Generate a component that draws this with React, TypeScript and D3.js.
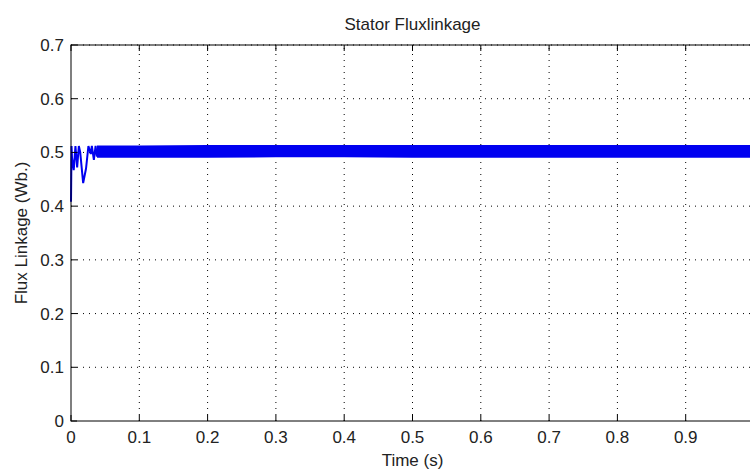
import React, { useEffect, useRef } from 'react';
import * as d3 from 'd3';

// start-up transient (time in s, flux in Wb)
const transientTime = [0, 0.0008, 0.0015, 0.004, 0.0065, 0.009, 0.0115, 0.0135, 0.0178, 0.022, 0.0255, 0.029, 0.0305, 0.0335, 0.036, 0.038];
const transientFlux = [0.408, 0.512, 0.49, 0.467, 0.512, 0.472, 0.512, 0.5, 0.443, 0.47, 0.512, 0.497, 0.512, 0.486, 0.512, 0.492];

// steady state hysteresis band (upper / lower envelope)
const bandTime = [0.038, 0.1, 0.2, 0.3, 0.4, 0.5, 0.6, 0.7, 0.8, 0.9, 1.0];
const bandHigh = [0.513, 0.513, 0.514, 0.514, 0.514, 0.514, 0.514, 0.514, 0.514, 0.514, 0.514];
const bandLow = [0.49, 0.49, 0.49, 0.491, 0.491, 0.49, 0.49, 0.49, 0.49, 0.49, 0.49];

const xTicks = [0, 0.1, 0.2, 0.3, 0.4, 0.5, 0.6, 0.7, 0.8, 0.9, 1];
const xTickLabels = ['0', '0.1', '0.2', '0.3', '0.4', '0.5', '0.6', '0.7', '0.8', '0.9', ''];
const yTicks = [0, 0.1, 0.2, 0.3, 0.4, 0.5, 0.6, 0.7];
const yTickLabels = ['0', '0.1', '0.2', '0.3', '0.4', '0.5', '0.6', '0.7'];

const FONT = '"Liberation Sans", Arial, sans-serif';

function App() {
  const ref = useRef<SVGSVGElement>(null);

  useEffect(() => {
    const svg = d3.select(ref.current);
    svg.selectAll('*').remove();

    const width = 750, height = 469;
    const margin = { top: 45, left: 71, right: -4, bottom: 48 };

    const x = d3.scaleLinear().domain([0, 1]).range([margin.left, width - margin.right]);
    const y = d3.scaleLinear().domain([0, 0.7]).range([height - margin.bottom, margin.top]);

    svg.append('rect').attr('width', width).attr('height', height).attr('fill', '#fff');

    // dotted grid
    const grid = svg.append('g');
    xTicks.slice(1).forEach((t) => {
      grid.append('line')
        .attr('x1', x(t)).attr('x2', x(t))
        .attr('y1', y(0)).attr('y2', y(0.7))
        .attr('stroke', '#000').attr('stroke-width', 1)
        .attr('stroke-dasharray', '1,5');
    });
    yTicks.slice(1).forEach((v) => {
      grid.append('line')
        .attr('x1', x(0)).attr('x2', x(1))
        .attr('y1', y(v)).attr('y2', y(v))
        .attr('stroke', '#000').attr('stroke-width', 1)
        .attr('stroke-dasharray', '1,5');
    });

    // signal
    const band = bandTime.map((t, i) => ({ t, hi: bandHigh[i], lo: bandLow[i] }));
    const area = d3.area<any>()
      .x((d) => x(d.t))
      .y0((d) => y(d.lo))
      .y1((d) => y(d.hi));
    svg.append('path').datum(band).attr('d', area).attr('fill', '#0000f0');

    const trans = transientTime.map((t, i) => ({ t, v: transientFlux[i] }));
    const line = d3.line<any>().x((d) => x(d.t)).y((d) => y(d.v));
    svg.append('path').datum(trans).attr('d', line)
      .attr('fill', 'none').attr('stroke', '#0000f0').attr('stroke-width', 2);

    // axes box (right side is off screen)
    const box = svg.append('g').attr('stroke', '#000').attr('stroke-width', 1).attr('fill', 'none');
    box.append('rect')
      .attr('x', x(0)).attr('y', y(0.7))
      .attr('width', x(1) - x(0)).attr('height', y(0) - y(0.7));

    // inward ticks
    xTicks.forEach((t) => {
      box.append('line').attr('x1', x(t)).attr('x2', x(t)).attr('y1', y(0)).attr('y2', y(0) - 6);
      box.append('line').attr('x1', x(t)).attr('x2', x(t)).attr('y1', y(0.7)).attr('y2', y(0.7) + 6);
    });
    yTicks.forEach((v) => {
      box.append('line').attr('x1', x(0)).attr('x2', x(0) + 6).attr('y1', y(v)).attr('y2', y(v));
    });

    const text = svg.append('g')
      .attr('font-family', FONT).attr('font-size', 17).attr('fill', '#222');

    xTicks.forEach((t, i) => {
      text.append('text')
        .attr('x', x(t)).attr('y', y(0) + 22)
        .attr('text-anchor', 'middle')
        .text(xTickLabels[i]);
    });
    yTicks.forEach((v, i) => {
      text.append('text')
        .attr('x', x(0) - 7).attr('y', y(v) + 6)
        .attr('text-anchor', 'end')
        .text(yTickLabels[i]);
    });

    text.append('text')
      .attr('x', (x(0) + x(1)) / 2).attr('y', 30)
      .attr('text-anchor', 'middle')
      .text('Stator Fluxlinkage');

    text.append('text')
      .attr('x', (x(0) + x(1)) / 2).attr('y', 466)
      .attr('text-anchor', 'middle')
      .text('Time (s)');

    text.append('text')
      .attr('transform', 'translate(27,' + (y(0) + y(0.7)) / 2 + ') rotate(-90)')
      .attr('text-anchor', 'middle')
      .text('Flux Linkage (Wb.)');
  }, []);

  return (
    <svg ref={ref} width={750} height={469}
      style={{ position: 'absolute', left: 0, top: 0, display: 'block' }} />
  );
}

export default App;
